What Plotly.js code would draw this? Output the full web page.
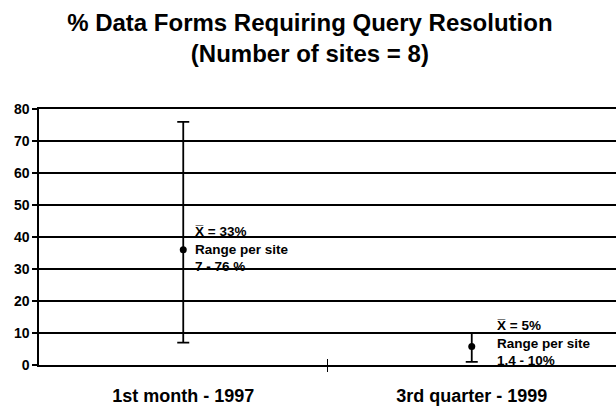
<!DOCTYPE html>
<html>
<head>
<meta charset="utf-8">
<script src="https://cdn.plot.ly/plotly-3.0.1.min.js"></script>
<style>html,body{margin:0;padding:0;background:#fff;}#chart{width:616px;height:407px;}</style>
</head>
<body>
<div id="chart"></div>
<script>
const categories = ['1st month - 1997', '3rd quarter - 1999'];
const plottedMean = [36, 5.8];
const siteLow = [7, 1];
const siteHigh = [76, 10];
const meanLabels = ['33%', '5%'];
const rangeLabels = ['7 - 76 %', '1.4 - 10%'];
const yTicks = [0, 10, 20, 30, 40, 50, 60, 70, 80];

const FONT = 'Liberation Sans, Arial, sans-serif';

const trace = {
  type: 'scatter',
  mode: 'markers',
  x: categories,
  y: plottedMean,
  marker: {color: '#000', size: 7},
  error_y: {
    type: 'data', symmetric: false,
    array: siteHigh.map((h, i) => h - plottedMean[i]),
    arrayminus: siteLow.map((l, i) => plottedMean[i] - l),
    color: '#000', thickness: 1.8, width: 6
  },
  hoverinfo: 'skip',
  showlegend: false
};

const shifts = [10, 23];
const annotations = categories.map((c, i) => ({
  x: c, y: plottedMean[i], xref: 'x', yref: 'y',
  xanchor: 'left', yanchor: 'middle', align: 'left',
  xshift: shifts[i], yshift: i === 0 ? 1 : 3,
  showarrow: false,
  text: 'X\u0305 = ' + meanLabels[i] + '<br>Range per site<br>' + rangeLabels[i],
  font: {family: FONT, size: 13.5, color: '#000', weight: 'bold'}
}));

const layout = {
  width: 616, height: 407,
  margin: {l: 39, r: 0, t: 109, b: 41.5},
  paper_bgcolor: '#fff', plot_bgcolor: '#fff',
  title: {
    text: '% Data Forms Requiring Query Resolution<br>(Number of sites = 8)',
    font: {family: FONT, size: 24, color: '#000', weight: 'bold'},
    x: 0.503, xanchor: 'center', y: 0.925, yanchor: 'top', yref: 'container'
  },
  xaxis: {
    type: 'category', range: [-0.5, 1.5],
    showgrid: false, zeroline: false,
    showline: true, mirror: true, linecolor: '#000', linewidth: 1.6,
    ticks: '', tickfont: {family: FONT, size: 18, color: '#000', weight: 'bold'},
    ticklabelstandoff: 14,
    fixedrange: true
  },
  xaxis2: {
    overlaying: 'x', matches: 'x', anchor: 'y',
    type: 'category',
    tickmode: 'array', tickvals: [0.5], ticktext: [''],
    ticks: 'outside', ticklen: 6, tickwidth: 1.2, tickcolor: '#000',
    showgrid: false, zeroline: false, showline: false, showticklabels: false
  },
  xaxis3: {
    overlaying: 'x', matches: 'x', anchor: 'y',
    type: 'category',
    tickmode: 'array', tickvals: [0.5], ticktext: [''],
    ticks: 'inside', ticklen: 6, tickwidth: 1.2, tickcolor: '#000',
    showgrid: false, zeroline: false, showline: false, showticklabels: false
  },
  yaxis: {
    range: [0, 80], tickmode: 'array', tickvals: yTicks,
    showgrid: true, gridcolor: '#000', gridwidth: 1.5,
    zeroline: false,
    showline: true, linecolor: '#000', linewidth: 1.6,
    ticks: 'outside', ticklen: 5, tickwidth: 1.2, tickcolor: '#000',
    tickfont: {family: FONT, size: 14, color: '#000', weight: 'bold'},
    fixedrange: true
  },
  annotations: annotations
};

const dummy2 = {type: 'scatter', mode: 'none', x: categories, y: plottedMean, xaxis: 'x2', yaxis: 'y', hoverinfo: 'skip', showlegend: false};
const dummy3 = {type: 'scatter', mode: 'none', x: categories, y: plottedMean, xaxis: 'x3', yaxis: 'y', hoverinfo: 'skip', showlegend: false};

Plotly.newPlot('chart', [dummy2, dummy3, trace], layout, {staticPlot: true, displayModeBar: false});
</script>
</body>
</html>
